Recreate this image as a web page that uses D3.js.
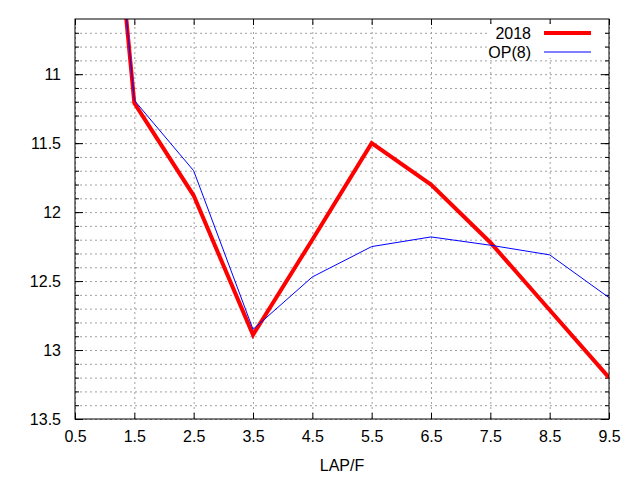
<!DOCTYPE html>
<html>
<head>
<meta charset="utf-8">
<script src="https://cdn.jsdelivr.net/npm/d3@7"></script>
<style>
  body { margin: 0; background: #fff; }
  text { font-family: "Liberation Sans", Arial, sans-serif; font-size: 16px; fill: #000; }
</style>
</head>
<body>
<svg id="chart" width="640" height="480"></svg>
<script>
// Chart data
const laps = [0.5, 1.5, 2.5, 3.5, 4.5, 5.5, 6.5, 7.5, 8.5, 9.5];
const series2018 = [6.7, 11.21, 11.88, 12.89, 12.2, 11.5, 11.8, 12.22, 12.71, 13.2];
const seriesOP8 = [6.7, 11.19, 11.7, 12.85, 12.47, 12.25, 12.18, 12.24, 12.31, 12.62];
const xTicks = [0.5, 1.5, 2.5, 3.5, 4.5, 5.5, 6.5, 7.5, 8.5, 9.5];
const yTicks = [11, 11.5, 12, 12.5, 13, 13.5];
const yMinorTicks = d3.range(107, 136).map(d => d / 10);
const seriesNames = ["2018", "OP(8)"];

// =======================================================================================
function drawChart(svgIdName)
 {
  const svg = d3.select("#" + svgIdName);
  const margin = { top: 19, right: 31, bottom: 61, left: 75 };
  const width = +svg.attr("width") - margin.left - margin.right;
  const height = +svg.attr("height") - margin.top - margin.bottom;

  // Scales (y runs downwards: smaller values at top)
  const xScale = d3.scaleLinear().domain([0.5, 9.5]).range([0, width]);
  const yScale = d3.scaleLinear().domain([10.6, 13.5]).range([0, height]);

  const g = svg.append("g")
    .attr("transform", `translate(${margin.left},${margin.top})`);

  svg.append("defs").append("clipPath").attr("id", "plotClip")
    .append("rect").attr("width", width).attr("height", height);

  // Dashed grid lines
  const gridStyle = sel => sel.selectAll("line")
    .attr("stroke", "#a0a0a0").attr("stroke-dasharray", "2,3");

  g.append("g")
    .call(d3.axisLeft(yScale).tickValues(yMinorTicks).tickSize(-width).tickFormat(""))
    .call(a => a.select(".domain").remove())
    .call(gridStyle);

  g.append("g")
    .attr("transform", `translate(0,${height})`)
    .call(d3.axisBottom(xScale).tickValues(xTicks).tickSize(-height).tickFormat(""))
    .call(a => a.select(".domain").remove())
    .call(gridStyle);

  // Inward tick marks on all four sides
  const tickSides = [
    { axis: d3.axisLeft(yScale).tickValues(yMinorTicks).tickSize(-4), t: "translate(0,0)" },
    { axis: d3.axisRight(yScale).tickValues(yMinorTicks).tickSize(-4), t: `translate(${width},0)` },
    { axis: d3.axisLeft(yScale).tickValues(yTicks).tickSize(-8), t: "translate(0,0)" },
    { axis: d3.axisRight(yScale).tickValues(yTicks).tickSize(-8), t: `translate(${width},0)` },
    { axis: d3.axisBottom(xScale).tickValues(xTicks).tickSize(-6), t: `translate(0,${height})` },
    { axis: d3.axisTop(xScale).tickValues(xTicks).tickSize(-6), t: "translate(0,0)" }
  ];
  tickSides.forEach(s => {
    g.append("g").attr("transform", s.t)
      .call(s.axis.tickFormat(""))
      .call(a => a.select(".domain").remove())
      .selectAll("line").attr("stroke", "#000");
  });

  // Tick labels
  g.append("g")
    .call(d3.axisLeft(yScale).tickValues(yTicks).tickSize(0).tickPadding(14).tickFormat(d3.format("")))
    .call(a => a.select(".domain").remove())
    .selectAll("text").attr("font-size", 16).attr("font-family", null);

  g.append("g")
    .attr("transform", `translate(0,${height})`)
    .call(d3.axisBottom(xScale).tickValues(xTicks).tickSize(0).tickPadding(12).tickFormat(d3.format(".1f")))
    .call(a => a.select(".domain").remove())
    .selectAll("text").attr("font-size", 16).attr("font-family", null);

  // Axis title
  g.append("text")
    .attr("x", width / 2)
    .attr("y", height + 52)
    .attr("text-anchor", "middle")
    .text("LAP/F");

  // Legend box hides grid behind it
  g.append("rect")
    .attr("x", 412).attr("y", 5).attr("width", 116).attr("height", 34)
    .attr("fill", "#fff");

  // Lines
  const lineGenerator = d3.line()
    .x((d, i) => xScale(laps[i]))
    .y(d => yScale(d));

  const plot = g.append("g").attr("clip-path", "url(#plotClip)");
  plot.append("path")
    .datum(series2018)
    .attr("fill", "none")
    .attr("stroke", "#ff0000")
    .attr("stroke-width", 4)
    .attr("stroke-linejoin", "miter")
    .attr("d", lineGenerator);

  plot.append("path")
    .datum(seriesOP8)
    .attr("fill", "none")
    .attr("stroke", "#0000ff")
    .attr("stroke-width", 1)
    .attr("d", lineGenerator);

  // Legend
  const legend = [
    { name: seriesNames[0], color: "#ff0000", w: 4, y: 14 },
    { name: seriesNames[1], color: "#0000ff", w: 1, y: 33 }
  ];
  legend.forEach(l => {
    g.append("text")
      .attr("x", 456).attr("y", l.y)
      .attr("dy", "0.35em")
      .attr("text-anchor", "end")
      .text(l.name);
    g.append("line")
      .attr("x1", 469).attr("x2", 516)
      .attr("y1", l.y).attr("y2", l.y)
      .attr("stroke", l.color).attr("stroke-width", l.w);
  });

  // Frame
  g.append("rect")
    .attr("width", width).attr("height", height)
    .attr("fill", "none").attr("stroke", "#000").attr("stroke-width", 1);
 }

drawChart("chart");
</script>
</body>
</html>
